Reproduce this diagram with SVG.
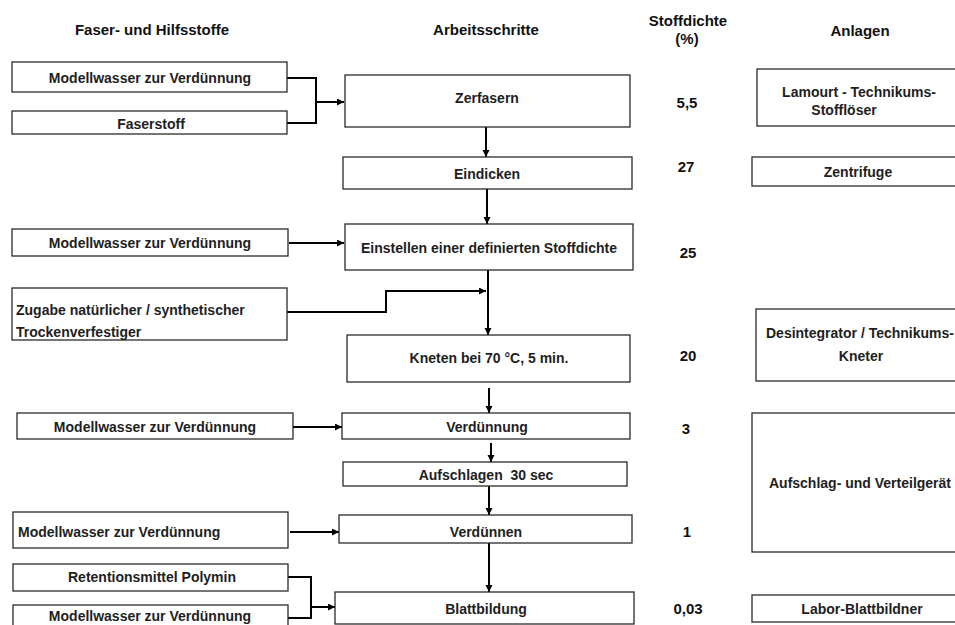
<svg xmlns="http://www.w3.org/2000/svg" width="955" height="625" viewBox="0 0 955 625">
<defs>
<marker id="ah" markerUnits="userSpaceOnUse" markerWidth="8" markerHeight="8" refX="7" refY="3.5" orient="auto">
<path d="M0,0 L7,3.5 L0,7 z" fill="#000"/>
</marker>
<style>
.b{fill:#fff;stroke:#2a2a2a;stroke-width:1.3}
.t{font-family:"Liberation Sans",Arial,sans-serif;font-weight:bold;font-size:14px;fill:#1e1e1e;text-anchor:middle}
.l{text-anchor:start}
.h{font-size:15px;fill:#111}
.n{font-size:15px;fill:#111}
.c{fill:none;stroke:#000;stroke-width:2}
.a{marker-end:url(#ah)}
</style>
</defs>
<rect width="955" height="625" fill="#fff"/>
<g id="headers">
<text class="t h" x="152" y="35">Faser- und Hilfsstoffe</text>
<text class="t h" x="486" y="35">Arbeitsschritte</text>
<text class="t h" x="688" y="26">Stoffdichte</text>
<text class="t h" x="687" y="44">(%)</text>
<text class="t h" x="860" y="36">Anlagen</text>
</g>
<g id="connectors">
<path class="c" d="M287,78 H316 V123 H287"/>
<path class="c a" d="M316,102 H344"/>
<path class="c a" d="M486,127 V157"/>
<path class="c a" d="M487,189 V224"/>
<path class="c a" d="M289,243 H344"/>
<path class="c a" d="M287,312 H386 V291 H486"/>
<path class="c a" d="M488,270 V335"/>
<path class="c a" d="M489,388 V413"/>
<path class="c a" d="M293,427 H342"/>
<path class="c a" d="M491,443 V462"/>
<path class="c a" d="M489,486 V515"/>
<path class="c a" d="M290,532 H339"/>
<path class="c a" d="M489,543 V592"/>
<path class="c" d="M288,577 H311 V618 H288"/>
<path class="c a" d="M311,607 H335"/>
</g>
<g id="in1"><rect class="b" x="12" y="62" width="275" height="30"/><text class="t" x="150" y="83">Modellwasser zur Verdünnung</text></g>
<g id="in2"><rect class="b" x="12" y="111" width="275" height="23"/><text class="t" x="151" y="129">Faserstoff</text></g>
<g id="in3"><rect class="b" x="12" y="229" width="276" height="27"/><text class="t" x="150" y="248">Modellwasser zur Verdünnung</text></g>
<g id="in4"><rect class="b" x="12" y="288" width="275" height="52"/><text class="t l" x="16" y="315">Zugabe natürlicher / synthetischer</text><text class="t l" x="16" y="337">Trockenverfestiger</text></g>
<g id="in5"><rect class="b" x="17" y="413" width="276" height="26"/><text class="t" x="155" y="432">Modellwasser zur Verdünnung</text></g>
<g id="in6"><rect class="b" x="13" y="512" width="275" height="36"/><text class="t l" x="18" y="537">Modellwasser zur Verdünnung</text></g>
<g id="in7"><rect class="b" x="13" y="564" width="275" height="27"/><text class="t" x="152" y="582">Retentionsmittel Polymin</text></g>
<g id="in8"><rect class="b" x="13" y="605" width="275" height="30"/><text class="t" x="150" y="621">Modellwasser zur Verdünnung</text></g>
<g id="s1"><rect class="b" x="345" y="75" width="285" height="52"/><text class="t" x="487" y="103">Zerfasern</text></g>
<g id="s2"><rect class="b" x="343" y="157" width="289" height="32"/><text class="t" x="487" y="179">Eindicken</text></g>
<g id="s3"><rect class="b" x="345" y="224" width="288" height="46"/><text class="t" x="489" y="253">Einstellen einer definierten Stoffdichte</text></g>
<g id="s4"><rect class="b" x="347" y="335" width="283" height="47"/><text class="t" x="489" y="363">Kneten bei 70 °C, 5 min.</text></g>
<g id="s5"><rect class="b" x="342" y="413" width="288" height="26"/><text class="t" x="487" y="432">Verdünnung</text></g>
<g id="s6"><rect class="b" x="343" y="462" width="284" height="24"/><text class="t" x="486" y="480" xml:space="preserve">Aufschlagen  30 sec</text></g>
<g id="s7"><rect class="b" x="339" y="515" width="293" height="28"/><text class="t" x="486" y="537">Verdünnen</text></g>
<g id="s8"><rect class="b" x="335" y="592" width="299" height="32"/><text class="t" x="486" y="614">Blattbildung</text></g>
<g id="d1"><text class="t n" x="687" y="108">5,5</text></g>
<g id="d2"><text class="t n" x="686" y="172">27</text></g>
<g id="d3"><text class="t n" x="688" y="258">25</text></g>
<g id="d4"><text class="t n" x="688" y="361">20</text></g>
<g id="d5"><text class="t n" x="686" y="434">3</text></g>
<g id="d6"><text class="t n" x="687" y="537">1</text></g>
<g id="d7"><text class="t n" x="688" y="614">0,03</text></g>
<g id="a1"><rect class="b" x="757" y="69" width="210" height="57"/><text class="t" x="859" y="97">Lamourt - Technikums-</text><text class="t" x="844" y="115">Stofflöser</text></g>
<g id="a2"><rect class="b" x="752" y="157" width="215" height="29"/><text class="t" x="858" y="177">Zentrifuge</text></g>
<g id="a3"><rect class="b" x="756" y="309" width="211" height="72"/><text class="t" x="860" y="338">Desintegrator / Technikums-</text><text class="t" x="861" y="361">Kneter</text></g>
<g id="a4"><rect class="b" x="752" y="413" width="215" height="139"/><text class="t" x="860" y="488">Aufschlag- und Verteilgerät</text></g>
<g id="a5"><rect class="b" x="752" y="595" width="215" height="27"/><text class="t" x="862" y="614">Labor-Blattbildner</text></g>
</svg>
